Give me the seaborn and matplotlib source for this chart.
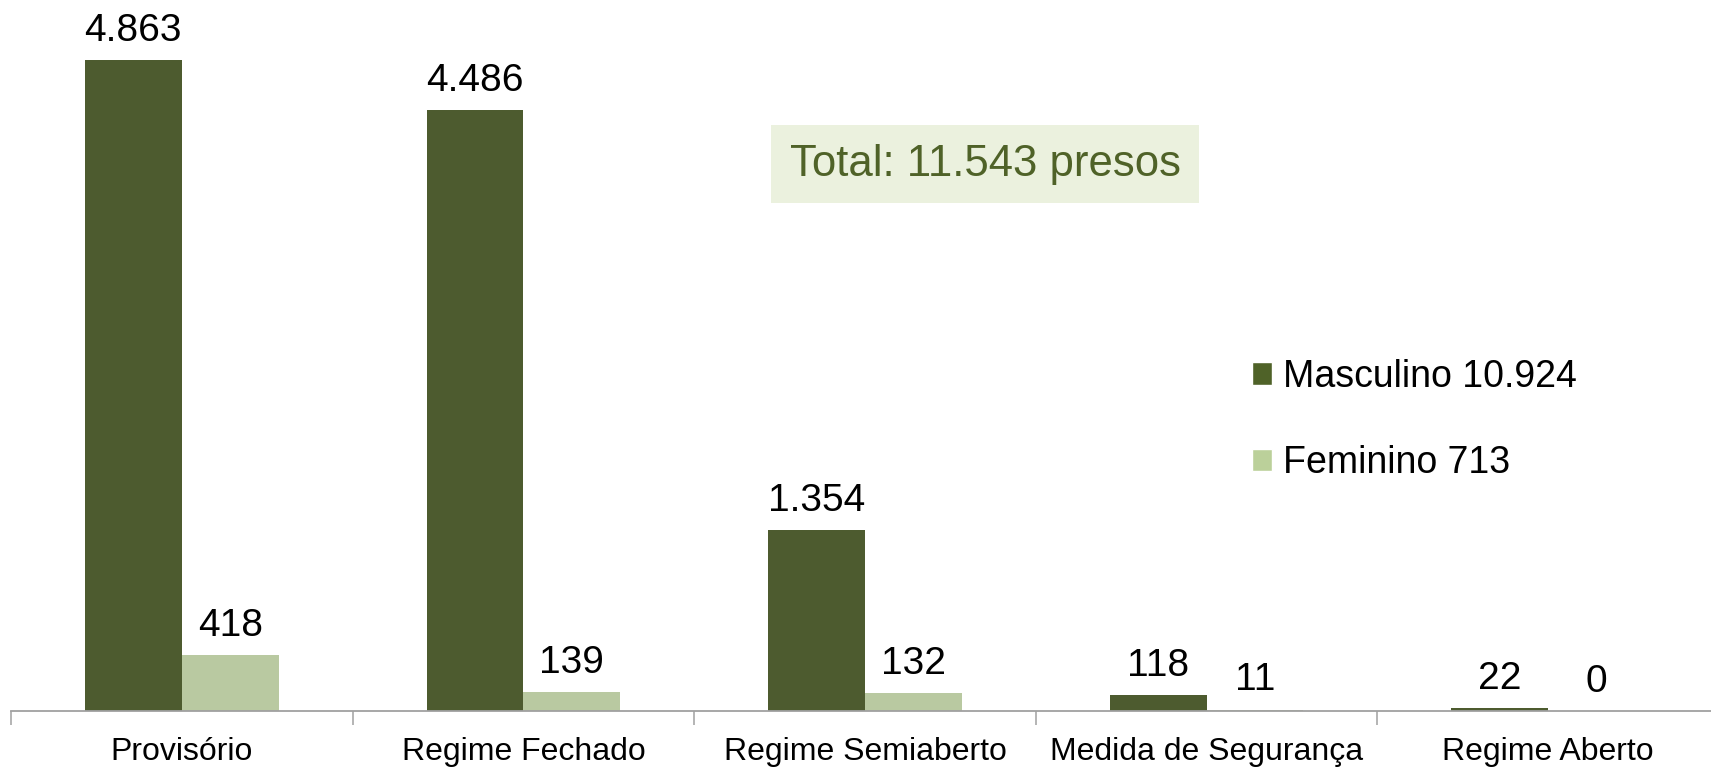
import matplotlib
matplotlib.use("Agg")
import matplotlib.pyplot as plt
import seaborn as sns
import pandas as pd
from matplotlib.patches import Patch

categorias = ["Provisório", "Regime Fechado", "Regime Semiaberto",
              "Medida de Segurança", "Regime Aberto"]
masculino = [4863, 4486, 1354, 118, 22]
feminino = [418, 139, 132, 11, 0]
series = ["Masculino 10.924", "Feminino 713"]
total_texto = "Total: 11.543 presos"

cor_masc = "#4F6228"
cor_fem = "#BBD09A"

df = pd.DataFrame({
    "categoria": categorias * 2,
    "valor": masculino + feminino,
    "sexo": [series[0]] * len(categorias) + [series[1]] * len(categorias),
})

sns.set_style("white")
plt.rcParams["font.family"] = ["Liberation Sans", "DejaVu Sans"]
plt.rcParams["text.color"] = "black"

fig = plt.figure(figsize=(17.11, 7.67), dpi=100)
ax = fig.add_axes([0.0064, 0.073, 0.9983, 0.927])

sns.barplot(data=df, x="categoria", y="valor", hue="sexo",
            palette=[cor_masc, cor_fem], width=0.567, linewidth=0,
            ax=ax, legend=False)

# data labels, brazilian thousands separator
for cont in ax.containers:
    for barra in cont:
        v = barra.get_height()
        txt = f"{int(round(v)):,}".replace(",", ".")
        ax.annotate(txt, (barra.get_x() + barra.get_width() / 2, v),
                    xytext=(0, 21), textcoords="offset points",
                    ha="center", va="center", fontsize=28, color="black")

ax.set_xlim(-0.5, 4.5)
ax.set_ylim(0, 5310)
ax.set_xlabel("")
ax.set_ylabel("")
ax.set_yticks([])

for s in ["left", "top", "right"]:
    ax.spines[s].set_visible(False)
ax.spines["bottom"].set_color("#A0A0A0")
ax.spines["bottom"].set_linewidth(1.3)

ax.tick_params(axis="x", which="major", length=0, pad=18.5, labelsize=23,
               labelcolor="black")
ax.set_xticks([i - 0.5 for i in range(len(categorias) + 1)], minor=True)
ax.tick_params(axis="x", which="minor", bottom=True, length=10, width=1.1,
               color="#A0A0A0", direction="out")

# legend
handles = [Patch(facecolor=cor_masc), Patch(facecolor=cor_fem)]
fig.legend(handles, series, loc="upper left", bbox_to_anchor=(0.7205, 0.557),
           frameon=False, fontsize=27, handlelength=0.55, handleheight=0.55,
           handletextpad=0.3, labelspacing=1.35, borderpad=0)

# total box
fig.text(0.5757, 0.786, total_texto, ha="center", va="center",
         fontsize=31.5, color=cor_masc,
         bbox=dict(boxstyle="square,pad=0.42", facecolor="#EBF1DE",
                   edgecolor="none"))

fig.savefig("out.png", dpi=100)
